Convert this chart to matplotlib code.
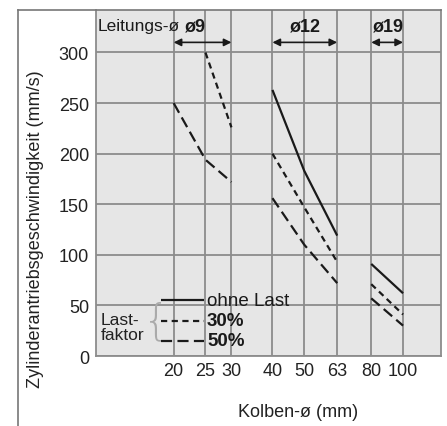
import numpy as np
import matplotlib
matplotlib.use("Agg")
import matplotlib.pyplot as plt
from matplotlib.lines import Line2D

plt.rcParams['font.family'] = ['Liberation Sans', 'DejaVu Sans']

# ---- data ----
bore_ticks = [20, 25, 30, 40, 50, 63, 80, 100]
y_ticks = [0, 50, 100, 150, 200, 250, 300]

# tube 9 group
bore_9 = [20, 25, 30]
load30_9 = [np.nan, 300, 226]
load50_9 = [250, 194, 172]
# tube 12 group
bore_12 = [40, 50, 63]
noload_12 = [263, 183, 119]
load30_12 = [200, 147, 93]
load50_12 = [156, 110, 72]
# tube 19 group
bore_19 = [80, 100]
noload_19 = [91, 62]
load30_19 = [71, 41]
load50_19 = [57, 30]

tube_labels = ["ø9", "ø12", "ø19"]
tube_ranges = [(20, 30), (40, 63), (80, 100)]

# ---- figure ----
W, H = 447, 427
fig = plt.figure(figsize=(W / 100, H / 100), dpi=100)
ax_l, ax_r, ax_t, ax_b = 96, 441, 11, 357
ax = fig.add_axes([ax_l / W, 1 - ax_b / H, (ax_r - ax_l) / W, (ax_b - ax_t) / H])
ax.set_facecolor('#e6e6e6')
ax.set_xscale('log')
ax.set_xlim(11.6, 130.5)
ax.set_ylim(0, 342)

gridc = '#8c8c8c'
ax.set_xticks(bore_ticks)
ax.set_xticklabels([str(v) for v in bore_ticks])
ax.xaxis.set_minor_locator(matplotlib.ticker.NullLocator())
ax.set_yticks(y_ticks)
ax.grid(True, color=gridc, lw=1.3)
ax.set_axisbelow(True)
ax.tick_params(length=0, labelsize=13, colors='#222222')
ax.tick_params(axis='x', pad=4)
ax.tick_params(axis='y', pad=5)
for s in ax.spines.values():
    s.set_color(gridc)
    s.set_linewidth(1.3)
ax.spines['top'].set_visible(False)

# outer frame
fig.add_artist(Line2D([18 / W, 18 / W], [0, 1 - 11 / H], color='#777777', lw=1.2))
fig.add_artist(Line2D([18 / W, ax_r / W], [1 - 11 / H, 1 - 11 / H], color='#777777', lw=1.2))

lc = '#1a1a1a'
lw = 1.6
st_solid = dict(color=lc, lw=lw, solid_capstyle='butt')
st_30 = dict(color=lc, lw=lw, dashes=(2.8, 2.0))
st_50 = dict(color=lc, lw=lw, dashes=(5.0, 2.4))

ax.plot(bore_9, load30_9, **st_30)
ax.plot(bore_9, load50_9, **st_50)
ax.plot(bore_12, noload_12, **st_solid)
ax.plot(bore_12, load30_12, **st_30)
ax.plot(bore_12, load50_12, **st_50)
ax.plot(bore_19, noload_19, **st_solid)
ax.plot(bore_19, load30_19, **st_30)
ax.plot(bore_19, load50_19, **st_50)


def ax_pt(px, py):
    return ((px - ax_l) / (ax_r - ax_l), (ax_b - py) / (ax_b - ax_t))


# header: tube sizes with arrows
arrow_y = 310
for (x0, x1) in tube_ranges:
    ax.annotate('', xy=(x0, arrow_y), xytext=(x1, arrow_y),
                arrowprops=dict(arrowstyle='<|-|>', color=lc, lw=1.2,
                                mutation_scale=11, shrinkA=0, shrinkB=0))
label_px = [195, 305, 388]
for lab, px in zip(tube_labels, label_px):
    p = ax_pt(px, 27)
    ax.text(p[0], p[1], lab, transform=ax.transAxes, ha='center', va='center',
            fontsize=13, fontweight='bold', color=lc)
p = ax_pt(98, 27)
ax.text(p[0], p[1], "Leitungs-ø", transform=ax.transAxes, ha='left',
        va='center', fontsize=12.5, color=lc)

# legend inside
leg_items = [("ohne Last", st_solid, 'normal', 301),
             ("30%", st_30, 'bold', 322),
             ("50%", st_50, 'bold', 342)]
for lab, st, fw, py in leg_items:
    a = ax_pt(161, py)
    b = ax_pt(204, py)
    ax.add_line(Line2D([a[0], b[0]], [a[1], b[1]], transform=ax.transAxes, **st))
    t = ax_pt(207, py)
    ax.text(t[0], t[1], lab, transform=ax.transAxes, ha='left', va='center',
            fontsize=13.5, fontweight=fw, color=lc)
p = ax_pt(101, 328)
ax.text(p[0], p[1], "Last-\nfaktor", transform=ax.transAxes, ha='left',
        va='center', fontsize=12.5, color='#222222', linespacing=1.0)
p = ax_pt(156, 322)
ax.text(p[0], p[1], "{", transform=ax.transAxes, ha='center', va='center',
        fontsize=30, color='#aaaaaa', fontfamily='DejaVu Sans',
        fontweight='ultralight')

ax.set_xlabel("Kolben-ø (mm)", fontsize=13, color='#222222')
ax.xaxis.set_label_coords(ax_pt(298, 0)[0], ax_pt(0, 404)[1])
ax.set_ylabel("Zylinderantriebsgeschwindigkeit (mm/s)", fontsize=13,
              color='#222222')
ax.yaxis.set_label_coords(ax_pt(44, 0)[0], ax_pt(0, 229)[1])

fig.savefig("out.png", dpi=100)
